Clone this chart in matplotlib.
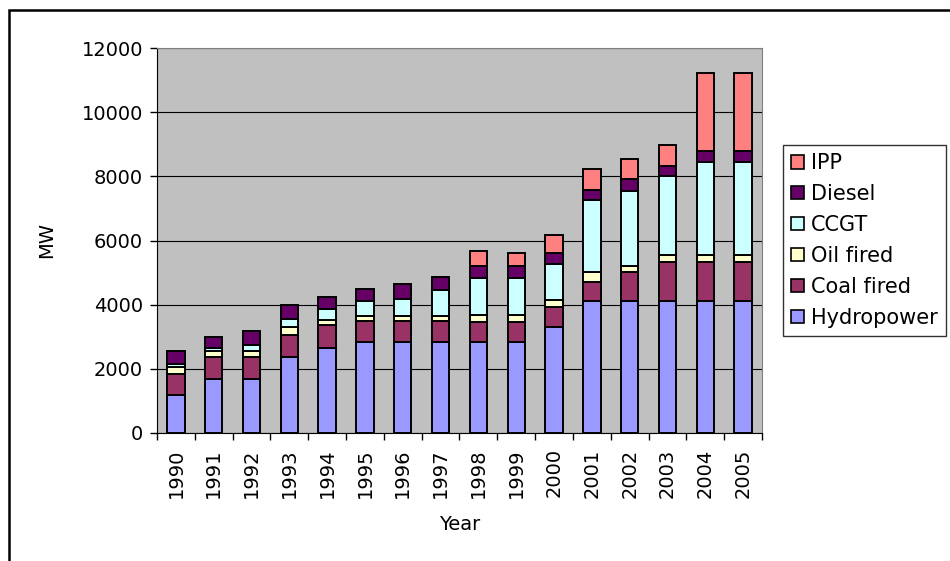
import numpy as np
import matplotlib
matplotlib.use("Agg")
import matplotlib.pyplot as plt
from matplotlib.patches import Rectangle, Patch

years = [str(y) for y in range(1990, 2006)]

# MW per source
hydro = [1180, 1670, 1670, 2360, 2660, 2850, 2850, 2850, 2850, 2850, 3300, 4100, 4100, 4100, 4100, 4100]
coal = [660, 690, 690, 690, 700, 640, 640, 640, 620, 620, 640, 600, 910, 1240, 1240, 1240]
oil = [210, 200, 200, 250, 170, 170, 170, 170, 200, 200, 190, 310, 210, 210, 210, 210]
ccgt = [100, 100, 180, 250, 330, 440, 510, 800, 1160, 1160, 1140, 2250, 2310, 2470, 2910, 2910]
diesel = [420, 330, 450, 450, 380, 400, 460, 400, 380, 380, 330, 310, 385, 310, 330, 330]
ipp = [0, 0, 0, 0, 0, 0, 0, 0, 450, 390, 570, 650, 630, 645, 2440, 2440]

series = [
    ("Hydropower", hydro, "#9999FF"),
    ("Coal fired", coal, "#993366"),
    ("Oil fired", oil, "#FFFFCC"),
    ("CCGT", ccgt, "#CCFFFF"),
    ("Diesel", diesel, "#660066"),
    ("IPP", ipp, "#FF8080"),
]

plt.rcParams['font.family'] = 'DejaVu Sans'
fs = 14

fig = plt.figure(figsize=(9.5, 5.61), dpi=100)
ax = fig.add_axes([157/950, 1-433/561, 605/950, 385/561])
ax.set_facecolor("#C0C0C0")

x = np.arange(len(years))
bottom = np.zeros(len(years))
handles = []
for name, vals, col in series:
    vals = np.array(vals, dtype=float)
    mask = vals > 0
    ax.bar(x[mask], vals[mask], bottom=bottom[mask], width=0.46, color=col,
           edgecolor="black", linewidth=1.4, zorder=3)
    bottom += vals
    handles.append(Patch(facecolor=col, edgecolor="black", linewidth=1.2, label=name))

ax.set_xlim(-0.5, len(years) - 0.5)
ax.set_ylim(0, 12000)
ax.set_yticks(np.arange(0, 12001, 2000))
ax.yaxis.grid(True, color="black", linewidth=0.8, zorder=1)
ax.set_axisbelow(True)

ax.set_xticks(x)
ax.set_xticklabels(years, rotation=90, fontsize=fs)
ax.set_xticks(np.arange(-0.5, len(years), 1), minor=True)
ax.tick_params(axis="x", which="major", length=0, pad=11)
ax.tick_params(axis="x", which="minor", length=5, width=1, direction="out")
ax.tick_params(axis="y", length=5, width=1, direction="out", labelsize=fs, pad=5)

for s in ["top", "right"]:
    ax.spines[s].set_color("#808080")
ax.spines["left"].set_color("black")
ax.spines["bottom"].set_color("black")

ax.set_ylabel("MW", fontsize=fs, labelpad=18)
ax.set_xlabel("Year", fontsize=fs, labelpad=12)

leg = fig.legend(handles=handles[::-1], loc="upper left",
                 bbox_to_anchor=(783/950, 1-145/561), fontsize=15,
                 frameon=True, fancybox=False, edgecolor="black",
                 handlelength=0.6, handleheight=0.6, handletextpad=0.35,
                 labelspacing=0.52, borderpad=0.4, borderaxespad=0)
leg.get_frame().set_linewidth(1)

fig.patches.append(Rectangle((9/950, -0.05), 1.2, 1-10/561+0.05,
                             transform=fig.transFigure, fill=False,
                             edgecolor="black", linewidth=1.8))

fig.savefig("out.png", dpi=100)
